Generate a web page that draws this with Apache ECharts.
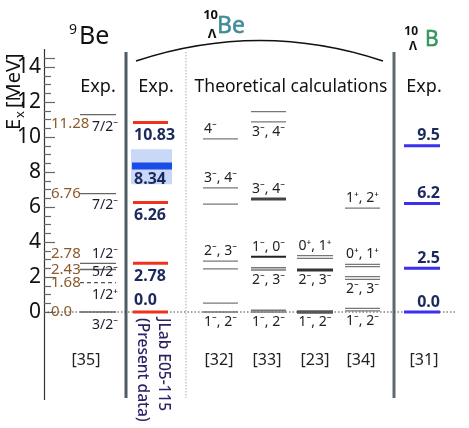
<!DOCTYPE html>
<html>
<head>
<meta charset="utf-8">
<script src="https://cdn.jsdelivr.net/npm/echarts@6/dist/echarts.min.js"></script>
<style>
  html, body { margin: 0; padding: 0; background: #fff; }
  #chart { width: 469px; height: 428px; }
</style>
</head>
<body>
<div id="chart"></div>
<script>
// 9Be experimental levels
const be9Energy = [0.0, 1.68, 2.43, 2.78, 6.76, 11.28];
const be9Value = ['0.0', '1.68', '2.43', '2.78', '6.76', '11.28'];
const be9Spin = ['3/2⁻', '1/2⁺', '5/2⁻', '1/2⁻', '7/2⁻', '7/2⁻'];

// 10ΛBe, JLab E05-115 (present data)
const jlabEnergy = [0.0, 2.78, 6.26, 10.83];
const jlabValue = ['0.0', '2.78', '6.26', '10.83'];
const jlabBlue = 8.34;
const jlabBand = [7.3, 9.3];

// theoretical calculations
const th32Energy = [0.0, 0.51, 2.46, 2.91, 6.17, 7.09, 9.89];
const th33Energy = [0.0, 0.1, 2.4, 2.53, 3.16, 6.46, 10.87, 11.45];
const th23Energy = [0.0, 2.4, 3.07, 3.22];
const th34Energy = [0.07, 0.21, 1.87, 2.02, 2.59, 2.72, 5.94];

const th32Spin = [[0.0, '1⁻, 2⁻'], [2.91, '2⁻, 3⁻'], [7.09, '3⁻, 4⁻'], [9.89, '4⁻']];
const th33Spin = [[0.0, '1⁻, 2⁻'], [2.4, '2⁻, 3⁻'], [3.16, '1⁻, 0⁻'], [6.46, '3⁻, 4⁻'], [10.87, '3⁻, 4⁻']];
const th23Spin = [[0.0, '1⁻, 2⁻'], [2.4, '2⁻, 3⁻'], [3.22, '0⁺, 1⁺']];
const th34Spin = [[0.07, '1⁻, 2⁻'], [1.87, '2⁻, 3⁻'], [2.72, '0⁺, 1⁺'], [5.94, '1⁺, 2⁺']];

// 10ΛB experimental levels
const b10Energy = [0.0, 2.5, 6.2, 9.5];
const b10Value = ['0.0', '2.5', '6.2', '9.5'];

const refLabels = ['[35]', '[32]', '[33]', '[23]', '[34]', '[31]'];

// ---- layout (pixel x ranges, since the hidden x axis runs in pixels) ----
const COL = {
  be9: [80, 116], jlab: [133, 168], band: [131, 172],
  t32: [203, 238], t33: [251, 286], t23: [297, 333], t34: [345, 380], b10: [404, 440]
};
const be9ValueDy = [0, 0, 0, -10, 0, 9];
const be9SpinDy = [13, 12, 3, -9, 11, 12];
const th32Side = [1, -1, -1, -1];
const th33Side = [1, 1, -1, -1, 1];
const th23Side = [1, 1, -1];
const th34Side = [1, 1, -1, -1];
const th33Style = { 4: ['#222', 2], 5: ['#444', 3] };
const th23Style = { 0: ['#555', 3.5], 1: ['#333', 3] };

const FONT = 'Noto Sans';
const NAVY = '#1b2a5c';

function levelSeries(energies, x, styleFn, z) {
  return {
    type: 'custom', silent: true, z: z || 3,
    data: energies.map(e => [x[0], e, x[1]]),
    renderItem: function (params, api) {
      const a = api.coord([api.value(0), api.value(1)]);
      const b = api.coord([api.value(2), api.value(1)]);
      const st = styleFn(params.dataIndex);
      return {
        type: 'line',
        shape: { x1: a[0], y1: a[1], x2: b[0], y2: b[1] },
        style: { stroke: st[0], lineWidth: st[1], lineDash: st[2] || null }
      };
    }
  };
}

function textSeries(items, x, align, dyFn, style) {
  return {
    type: 'custom', silent: true, z: 5,
    data: items.map(it => [x, it[0]]),
    renderItem: function (params, api) {
      const p = api.coord([api.value(0), api.value(1)]);
      const i = params.dataIndex;
      return {
        type: 'text', x: p[0], y: p[1] + dyFn(i),
        style: Object.assign({
          text: items[i][1], align: align, verticalAlign: 'middle', fontFamily: FONT
        }, style)
      };
    }
  };
}

const mid = c => (c[0] + c[1]) / 2;
const thSpinStyle = { fill: '#222', fontSize: 14 };

const series = [
  // zero line
  levelSeries([0], [44, 457], () => ['#444', 1, [1.5, 2]], 2),
  // 9Be
  levelSeries(be9Energy, COL.be9, i => i === 1 ? ['#555', 1.2, [4, 3]] : ['#666', 1.3]),
  textSeries(be9Energy.map((e, i) => [e, be9Value[i]]), 51, 'left', i => be9ValueDy[i],
    { fill: '#8b5a2b', fontSize: 15 }),
  textSeries(be9Energy.map((e, i) => [e, be9Spin[i]]), 118, 'right', i => be9SpinDy[i],
    { fill: '#1e1a2e', fontSize: 14 }),
  // JLab band and levels
  {
    type: 'custom', silent: true, z: 1,
    data: [[COL.band[0], jlabBand[0], COL.band[1], jlabBand[1]]],
    renderItem: function (params, api) {
      const a = api.coord([api.value(0), api.value(3)]);
      const b = api.coord([api.value(2), api.value(1)]);
      return { type: 'rect', shape: { x: a[0], y: a[1], width: b[0] - a[0], height: b[1] - a[1] },
        style: { fill: '#c9d8f7' } };
    }
  },
  levelSeries([jlabBlue], [132, 172], () => ['#1a4de8', 7]),
  levelSeries(jlabEnergy, COL.jlab, () => ['#f2301e', 3]),
  textSeries(jlabEnergy.map((e, i) => [e, jlabValue[i]]).concat([[jlabBlue, '8.34']]), 134, 'left',
    i => i === 0 ? -12 : 13, { fill: NAVY, fontSize: 16, fontWeight: 'bold' }),
  // theory
  levelSeries(th32Energy, COL.t32, () => ['#777', 1.3]),
  levelSeries(th33Energy, COL.t33, i => th33Style[i] || ['#777', 1.3]),
  levelSeries(th23Energy, COL.t23, i => th23Style[i] || ['#777', 1.3]),
  levelSeries(th34Energy, COL.t34, () => ['#777', 1.3]),
  textSeries(th32Spin, 204, 'left', i => th32Side[i] * 10, thSpinStyle),
  textSeries(th33Spin, mid(COL.t33), 'center', i => th33Side[i] * 10, thSpinStyle),
  textSeries(th23Spin, mid(COL.t23), 'center', i => th23Side[i] * 10, thSpinStyle),
  textSeries(th34Spin, mid(COL.t34), 'center', i => th34Side[i] * 10, thSpinStyle),
  // 10ΛB
  levelSeries(b10Energy, COL.b10, () => ['#3a30f0', 3]),
  textSeries(b10Energy.map((e, i) => [e, b10Value[i]]), 440, 'right', () => -10,
    { fill: NAVY, fontSize: 16, fontWeight: 'bold' })
];

const refX = [86, 219, 267, 315, 361, 424];

const graphic = [
  // separators
  { type: 'line', shape: { x1: 126, y1: 52, x2: 126, y2: 398 }, style: { stroke: '#4d5d63', lineWidth: 3 } },
  { type: 'line', shape: { x1: 186, y1: 52, x2: 186, y2: 398 }, style: { stroke: '#aaa', lineWidth: 1, lineDash: [1.5, 1.5] } },
  { type: 'line', shape: { x1: 394, y1: 52, x2: 394, y2: 398 }, style: { stroke: '#5d6b70', lineWidth: 3 } },
  // arc over 10ΛBe
  { type: 'bezierCurve', shape: { x1: 136, y1: 61, x2: 383, y2: 61, cpx1: 260, cpy1: 20 },
    style: { stroke: '#111', lineWidth: 1.6, fill: null } },
  // headers
  { type: 'text', x: 77, y: 30, style: { text: '9', fontSize: 14, fontFamily: FONT, fill: '#111', align: 'right', verticalAlign: 'middle' } },
  { type: 'text', x: 79, y: 37, style: { text: 'Be', fontSize: 25, fontFamily: FONT, fill: '#111', verticalAlign: 'middle' } },
  { type: 'text', x: 218, y: 15, style: { text: '10', fontSize: 13, fontWeight: 'bold', fontFamily: FONT, fill: '#111', align: 'right', verticalAlign: 'middle' } },
  { type: 'text', x: 212, y: 34, style: { text: 'Λ', fontSize: 13, fontWeight: 'bold', fontFamily: FONT, fill: '#111', align: 'center', verticalAlign: 'middle' } },
  { type: 'text', x: 217, y: 26, style: { text: 'Be', fontSize: 23, fontFamily: FONT, fill: '#3a8f9a', stroke: '#1f4f55', lineWidth: 0.4, verticalAlign: 'middle' } },
  { type: 'text', x: 418, y: 32, style: { text: '10', fontSize: 12, fontWeight: 'bold', fontFamily: FONT, fill: '#111', align: 'right', verticalAlign: 'middle' } },
  { type: 'text', x: 413, y: 47, style: { text: 'Λ', fontSize: 12, fontWeight: 'bold', fontFamily: FONT, fill: '#111', align: 'center', verticalAlign: 'middle' } },
  { type: 'text', x: 425, y: 40, style: { text: 'B', fontSize: 21, fontFamily: FONT, fill: '#2e9a5a', stroke: '#1d5a36', lineWidth: 0.4, verticalAlign: 'middle' } },
  // column titles
  { type: 'text', x: 98, y: 87, style: { text: 'Exp.', fontSize: 18, fontFamily: FONT, fill: '#111', align: 'center', verticalAlign: 'middle' } },
  { type: 'text', x: 156, y: 87, style: { text: 'Exp.', fontSize: 18, fontFamily: FONT, fill: '#111', align: 'center', verticalAlign: 'middle' } },
  { type: 'text', x: 291, y: 87, style: { text: 'Theoretical calculations', fontSize: 17.5, fontFamily: FONT, fill: '#111', align: 'center', verticalAlign: 'middle' } },
  { type: 'text', x: 424, y: 87, style: { text: 'Exp.', fontSize: 18, fontFamily: FONT, fill: '#111', align: 'center', verticalAlign: 'middle' } },
  // y axis name, rotated
  { type: 'group', x: 14, y: 130, rotation: Math.PI / 2, children: [
    { type: 'text', x: 0, y: 0, style: { text: 'E', fontSize: 20, fontFamily: FONT, fill: '#111', verticalAlign: 'middle' } },
    { type: 'text', x: 12, y: 6, style: { text: 'x', fontSize: 13, fontFamily: FONT, fill: '#111', verticalAlign: 'middle' } },
    { type: 'text', x: 22, y: 0, style: { text: '[MeV]', fontSize: 20, fontFamily: FONT, fill: '#111', verticalAlign: 'middle' } }
  ] },
  // JLab rotated caption
  { type: 'group', x: 163, y: 318, rotation: -Math.PI / 2, children: [
    { type: 'text', x: 0, y: 0, style: { text: 'JLab E05-115', fontSize: 15.5, fontWeight: 500, fontFamily: FONT, fill: '#2a2466', verticalAlign: 'middle' } },
    { type: 'text', x: 0, y: 21, style: { text: '(Present data)', fontSize: 15.5, fontWeight: 500, fontFamily: FONT, fill: '#2a2466', verticalAlign: 'middle' } }
  ] }
].concat(refLabels.map((t, i) => ({
  type: 'text', x: refX[i], y: 360,
  style: { text: t, fontSize: 16, fontFamily: FONT, fill: '#222', align: 'center', verticalAlign: 'middle' }
})));

const option = {
  backgroundColor: '#fff',
  animation: false,
  grid: [
    { left: 44, right: 0, top: 49.5, bottom: 28.5 },
    { left: 44, right: 0, top: 58.25, bottom: 116 }
  ],
  xAxis: [
    { gridIndex: 0, type: 'value', min: 44, max: 469, show: false },
    { gridIndex: 1, type: 'value', min: 0, max: 1, show: false }
  ],
  yAxis: [
    {
      gridIndex: 0, type: 'value', min: -5, max: 15, interval: 1,
      axisLine: { show: true, lineStyle: { color: '#333', width: 1.2 } },
      axisTick: { show: false }, axisLabel: { show: false }, splitLine: { show: false }
    },
    {
      gridIndex: 1, type: 'value', min: 0, max: 14.5, interval: 2,
      axisLine: { show: false },
      axisTick: { show: true, inside: true, length: 11, lineStyle: { color: '#666', width: 1.2 } },
      minorTick: { show: true, splitNumber: 4, length: 7, lineStyle: { color: '#666', width: 1.2 } },
      axisLabel: {
        margin: 3, fontSize: 21, fontFamily: FONT, color: '#111',
        formatter: v => (v % 2 === 0 ? String(v) : '')
      },
      splitLine: { show: false }
    }
  ],
  series: series,
  graphic: graphic
};

const chart = echarts.init(document.getElementById('chart'));
chart.setOption(option);
</script>
</body>
</html>
